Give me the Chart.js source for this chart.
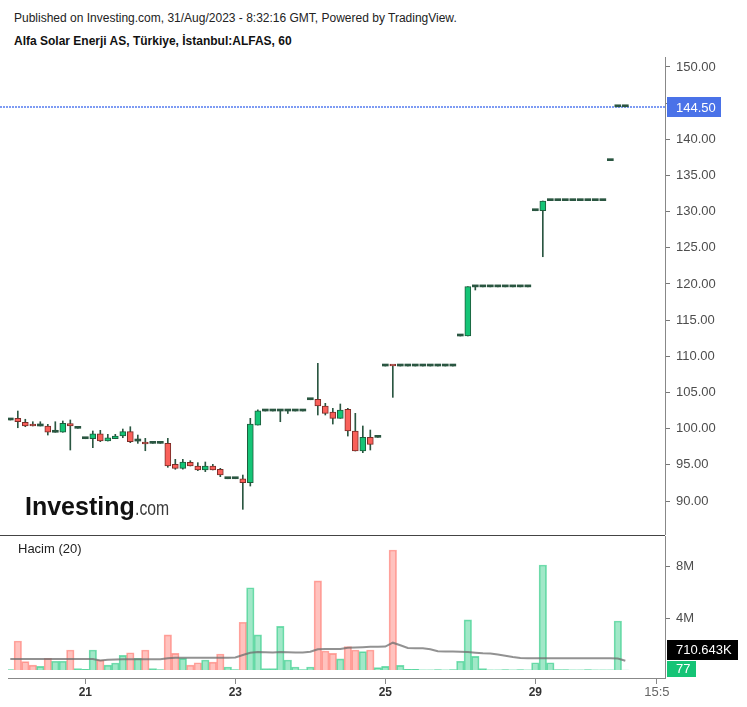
<!DOCTYPE html>
<html lang="tr">
<head>
    <meta charset="UTF-8">
    <title>Alfa Solar Enerji AS, 60</title>
    <script src="https://cdn.jsdelivr.net/npm/chart.js"></script>
    <style>
        body {
            margin: 0;
            background: #fff;
            font-family: "Liberation Sans", Arial, sans-serif;
        }
        #wrap {
            position: relative;
            width: 747px;
            height: 707px;
            overflow: hidden;
        }
        .head1 { position: absolute; left: 14px; top: 11px; font-size: 12px; color: #222; white-space: nowrap; }
        .head2 { position: absolute; left: 14px; top: 34px; font-size: 12px; font-weight: bold; color: #111; white-space: nowrap; }
        #priceCanvas { position: absolute; left: 0; top: 57px; }
        #volCanvas { position: absolute; left: 0; top: 536px; }
        .sep { position: absolute; left: 0; top: 535px; width: 665px; height: 1px; background: #444; }
        .hacim { position: absolute; left: 18px; top: 541px; font-size: 13px; color: #222; }
        .logo { position: absolute; left: 25px; top: 491px; font-size: 25px; line-height: 30px; font-weight: bold; color: #111; white-space: nowrap; }
        .logo span { display: inline-block; font-size: 21px; font-weight: normal; color: #3a3a3a; transform: scaleX(0.75); transform-origin: left; }
    </style>
</head>
<body>
<div id="wrap">
    <div class="head1">Published on Investing.com, 31/Aug/2023 - 8:32:16 GMT, Powered by TradingView.</div>
    <div class="head2">Alfa Solar Enerji AS, Türkiye, İstanbul:ALFAS, 60</div>
    <canvas id="priceCanvas" width="747" height="478"></canvas>
    <div class="sep"></div>
    <canvas id="volCanvas" width="747" height="171"></canvas>
    <div class="logo">Investing<span>.com</span></div>
    <div class="hacim">Hacim (20)</div>
</div>

<script>
// hourly bars, index 0 = first bar on the left
const openP = [101.2, 101.43, 100.88, 100.40, 100.37, 100.37, 99.5, 99.5, 100.69, 100.05,
    98.61, 98.61, 99.3, 98.29, 98.61, 98.98, 99.58, 98.29, 98.15, 97.97,
    97.97, 97.97, 95.07, 94.52, 95.35, 94.84, 94.29, 94.84, 94.38, 93.08,
    93.08, 93.08, 92.53, 100.5, 102.44, 102.44, 102.44, 102.44, 102.44, 102.44,
    104.0, 104.06, 103.13, 102.3, 101.43, 102.67, 99.68, 96.91, 98.8, 98.8,
    108.66, 108.70, 108.66, 108.66, 108.66, 108.66, 108.66, 108.66, 108.66, 108.66,
    112.81, 112.81, 119.6, 119.6, 119.6, 119.6, 119.6, 119.6, 119.6, 119.6,
    130.13, 130.13, 131.52, 131.52, 131.52, 131.52, 131.52, 131.52, 131.52, 131.52,
    137.05, 144.5, 144.5];
const highP = [101.2, 102.44, 101.3, 100.96, 100.96, 100.6, 100.96, 101.06, 101.2, 100.05,
    98.61, 99.68, 99.77, 99.22, 99.22, 99.95, 100.27, 99.12, 98.66, 97.97,
    97.97, 98.66, 95.76, 95.76, 95.57, 95.3, 95.39, 95.07, 94.52, 93.08,
    93.08, 93.59, 101.43, 102.6, 102.44, 102.44, 102.44, 102.44, 102.44, 102.44,
    104.0, 109.03, 103.5, 102.81, 103.41, 102.81, 102.12, 100.37, 99.81, 98.8,
    108.66, 108.70, 108.66, 108.66, 108.66, 108.66, 108.66, 108.66, 108.66, 108.66,
    112.81, 119.63, 119.6, 119.6, 119.6, 119.6, 119.6, 119.6, 119.6, 119.6,
    130.13, 131.47, 131.52, 131.52, 131.52, 131.52, 131.52, 131.52, 131.52, 131.52,
    137.05, 144.5, 144.5];
const lowP = [101.2, 100.13, 100.27, 100.37, 100.37, 99.12, 99.5, 99.5, 97.05, 100.05,
    98.61, 97.37, 98.2, 98.29, 98.61, 98.75, 98.06, 97.97, 96.95, 97.97,
    97.97, 94.66, 94.38, 94.4, 94.84, 94.2, 94.06, 94.29, 93.36, 93.08,
    93.08, 88.85, 92.07, 100.5, 102.44, 102.44, 100.96, 102.1, 102.44, 102.44,
    104.0, 101.89, 101.89, 100.64, 101.43, 98.98, 96.91, 96.68, 97.05, 98.8,
    108.66, 104.33, 108.66, 108.66, 108.66, 108.66, 108.66, 108.66, 108.66, 108.66,
    112.81, 112.81, 119.17, 119.6, 119.6, 119.6, 119.6, 119.6, 119.6, 119.6,
    130.13, 123.77, 131.52, 131.52, 131.52, 131.52, 131.52, 131.52, 131.52, 131.52,
    137.05, 144.5, 144.5];
const closeP = [101.2, 100.96, 100.37, 100.37, 100.37, 99.5, 99.5, 100.74, 100.37, 100.05,
    98.61, 99.3, 98.29, 98.75, 98.98, 99.58, 98.2, 98.29, 97.88, 97.97,
    97.97, 94.84, 94.52, 95.39, 94.84, 94.29, 94.84, 94.29, 93.59, 93.08,
    93.08, 92.53, 100.64, 102.48, 102.44, 102.44, 102.44, 102.44, 102.44, 102.44,
    104.0, 103.13, 102.12, 101.43, 102.58, 99.68, 96.91, 98.8, 97.83, 98.8,
    108.66, 108.66, 108.66, 108.66, 108.66, 108.66, 108.66, 108.66, 108.66, 108.66,
    112.81, 119.63, 119.6, 119.6, 119.6, 119.6, 119.6, 119.6, 119.6, 119.6,
    130.13, 131.47, 131.52, 131.52, 131.52, 131.52, 131.52, 131.52, 131.52, 131.52,
    137.05, 144.5, 144.5];

// volume in millions
const volume = [0.03, 2.23, 0.64, 0.38, 0.28, 0.9, 0.67, 0.67, 1.54, 0.1,
    0.05, 1.54, 0.77, 0.38, 0.54, 1.13, 1.33, 0.9, 1.54, 0.1,
    0.03, 2.7, 1.28, 0.9, 0.38, 0.56, 0.77, 0.6, 1.23, 0.23,
    0.03, 3.67, 6.33, 2.7, 0.1, 0.1, 3.36, 0.77, 0.23, 0.03,
    0.23, 6.85, 1.46, 1.28, 0.85, 1.8, 1.54, 1.41, 1.54, 0.18,
    0.28, 9.23, 0.36, 0.06, 0.05, 0.02, 0.02, 0.03, 0.02, 0.03,
    0.67, 3.85, 1.05, 0.1, 0.02, 0.02, 0.04, 0.02, 0.04, 0.02,
    0.56, 8.08, 0.56, 0.04, 0.03, 0.02, 0.02, 0.04, 0.02, 0.02,
    0.02, 3.77, 0.000077];
// Hacim (20) average line
const volAvg = [0.85, 0.85, 0.85, 0.85, 0.85, 0.85, 0.85, 0.85, 0.85, 0.85,
    0.85, 0.84, 0.74, 0.78, 0.8, 0.82, 0.82, 0.82, 0.82, 0.82,
    0.83, 0.9, 0.95, 0.95, 0.95, 0.95, 0.95, 0.95, 0.95, 0.95,
    0.97, 1.15, 1.32, 1.38, 1.37, 1.34, 1.38, 1.37, 1.35, 1.35,
    1.4, 1.6, 1.62, 1.62, 1.62, 1.72, 1.73, 1.75, 1.78, 1.78,
    1.8, 2.1, 1.9, 1.7, 1.67, 1.67, 1.6, 1.45, 1.42, 1.42,
    1.41, 1.38, 1.33, 1.28, 1.27, 1.2, 1.1, 1.0, 0.92, 0.9,
    0.9, 0.9, 0.9, 0.9, 0.9, 0.9, 0.9, 0.9, 0.9, 0.9,
    0.9, 0.88, 0.71];

const dayTickPos = [10, 30, 50, 70, 86.2];
const dayTickText = ['21', '23', '25', '29', '15:5'];
const priceTicks = [90, 95, 100, 105, 110, 115, 120, 125, 130, 135, 140, 145, 150];
const volTicks = [4, 8];
const lastPrice = 144.5;
const avgLabel = '710.643K';
const volLabel = '77';

const xMin = -0.307, xMax = 87.29;
const FONT = '"Liberation Sans", Arial, sans-serif';

const UP = '#15c476', UP_LINE = '#1d5c3c';
const DOWN = '#f9605a', DOWN_LINE = '#7c2d28';
const WICK = '#2a5641';

const idx = openP.map((v, i) => i);
const bodyFill = idx.map(i => closeP[i] > openP[i] ? UP : closeP[i] < openP[i] ? DOWN : WICK);
const bodyLine = idx.map(i => closeP[i] > openP[i] ? UP_LINE : closeP[i] < openP[i] ? DOWN_LINE : WICK);
const bodyBorder = idx.map(i => closeP[i] === openP[i] ? 0 : 1);
const volFill = idx.map(i => closeP[i] < openP[i] ? 'rgba(255,110,100,0.42)' : 'rgba(30,200,125,0.42)');
const volLine = idx.map(i => closeP[i] < openP[i] ? 'rgba(255,110,100,0.6)' : 'rgba(30,200,125,0.6)');

function isTimeTick(c) {
    return c.tick && c.tick.value === 86.2;
}

// dotted last-price line and the blue price tag
const priceMarks = {
    id: 'priceMarks',
    beforeDatasetsDraw(chart) {
        const { ctx, chartArea, scales } = chart;
        const py = Math.round(scales.y.getPixelForValue(lastPrice));
        ctx.save();
        ctx.strokeStyle = '#7d9bf3';
        ctx.lineWidth = 2;
        ctx.setLineDash([2, 1]);
        ctx.beginPath();
        ctx.moveTo(0, py);
        ctx.lineTo(chartArea.right, py);
        ctx.stroke();
        ctx.restore();
    },
    afterDraw(chart) {
        const { ctx, chartArea, scales } = chart;
        const py = Math.round(scales.y.getPixelForValue(lastPrice));
        ctx.save();
        ctx.fillStyle = '#4a72e8';
        ctx.fillRect(chartArea.right + 2, py - 10, 54, 20);
        ctx.fillStyle = '#fff';
        ctx.font = '13px ' + FONT;
        ctx.textBaseline = 'middle';
        ctx.fillText(lastPrice.toFixed(2), chartArea.right + 11, py + 1);
        ctx.restore();
    }
};

const volMarks = {
    id: 'volMarks',
    afterDraw(chart) {
        const { ctx, chartArea } = chart;
        const x = chartArea.right + 2;
        ctx.save();
        ctx.font = '13px ' + FONT;
        ctx.textBaseline = 'middle';
        ctx.fillStyle = '#000';
        ctx.fillRect(x, 104, 71, 20);
        ctx.fillStyle = '#15c476';
        ctx.fillRect(x, 125, 29, 16);
        ctx.fillStyle = '#fff';
        ctx.fillText(avgLabel, x + 9, 114.5);
        ctx.fillText(volLabel, x + 9, 133.5);
        ctx.restore();
    }
};

new Chart(document.getElementById('priceCanvas'), {
    type: 'bar',
    data: {
        datasets: [{
            data: idx.map(i => ({ x: i, y: [lowP[i], highP[i]] })),
            backgroundColor: WICK,
            barThickness: 1,
            grouped: false,
            order: 2
        }, {
            data: idx.map(i => ({ x: i, y: [openP[i], closeP[i]] })),
            backgroundColor: bodyFill,
            borderColor: bodyLine,
            borderWidth: bodyBorder,
            borderSkipped: false,
            barThickness: 6,
            minBarLength: 2,
            grouped: false,
            order: 1
        }]
    },
    options: {
        responsive: false,
        animation: false,
        layout: { padding: { left: 8, top: 0, bottom: 0, right: 0 } },
        plugins: { legend: { display: false }, tooltip: { enabled: false } },
        scales: {
            x: { type: 'linear', min: xMin, max: xMax, offset: false, display: false },
            y: {
                position: 'right',
                min: 85.3,
                max: 151.38,
                afterBuildTicks: s => { s.ticks = priceTicks.map(v => ({ value: v })); },
                afterFit: s => { s.width = 82; s.paddingTop = 0; s.paddingBottom = 0; },
                grid: { drawOnChartArea: false, tickLength: 5, tickColor: '#777' },
                border: { color: '#888', width: 1 },
                ticks: {
                    padding: 6,
                    color: '#4d4d4d',
                    font: { family: FONT, size: 13 },
                    callback: v => v.toFixed(2)
                }
            }
        }
    },
    plugins: [priceMarks]
});

new Chart(document.getElementById('volCanvas'), {
    type: 'bar',
    data: {
        datasets: [{
            type: 'line',
            data: idx.map(i => ({ x: i, y: volAvg[i] })),
            borderColor: 'rgba(110,110,110,0.75)',
            borderWidth: 2,
            pointRadius: 0,
            order: 0
        }, {
            data: idx.map(i => ({ x: i, y: volume[i] })),
            backgroundColor: volFill,
            borderColor: volLine,
            borderWidth: 1,
            borderSkipped: 'start',
            barPercentage: 1,
            categoryPercentage: 1,
            order: 1
        }]
    },
    options: {
        responsive: false,
        animation: false,
        layout: { padding: { left: 8, top: 0, bottom: 0, right: 0 } },
        plugins: { legend: { display: false }, tooltip: { enabled: false } },
        scales: {
            x: {
                type: 'linear',
                min: xMin,
                max: xMax,
                offset: false,
                afterBuildTicks: s => { s.ticks = dayTickPos.map(v => ({ value: v })); },
                afterFit: s => { s.height = 29; s.paddingLeft = 0; s.paddingRight = 0; },
                grid: { offset: false, drawOnChartArea: false, tickLength: 6, tickColor: '#888' },
                border: { color: '#888', width: 1 },
                ticks: {
                    autoSkip: false,
                    maxRotation: 0,
                    padding: 1,
                    color: c => isTimeTick(c) ? '#666' : '#333',
                    font: c => isTimeTick(c)
                        ? { family: FONT, size: 13 }
                        : { family: FONT, size: 12, weight: 'bold' },
                    callback: v => {
                        const k = dayTickPos.indexOf(v);
                        return k < 0 ? '' : dayTickText[k];
                    }
                }
            },
            y: {
                position: 'right',
                min: -8 / 13,
                max: 134 / 13,
                afterBuildTicks: s => { s.ticks = volTicks.map(v => ({ value: v })); },
                afterFit: s => { s.width = 82; s.paddingTop = 0; s.paddingBottom = 0; },
                grid: { drawOnChartArea: false, tickLength: 5, tickColor: '#777' },
                border: { color: '#888', width: 1 },
                ticks: {
                    padding: 6,
                    color: '#4d4d4d',
                    font: { family: FONT, size: 13 },
                    callback: v => v + 'M'
                }
            }
        }
    },
    plugins: [volMarks]
});
</script>
</body>
</html>
